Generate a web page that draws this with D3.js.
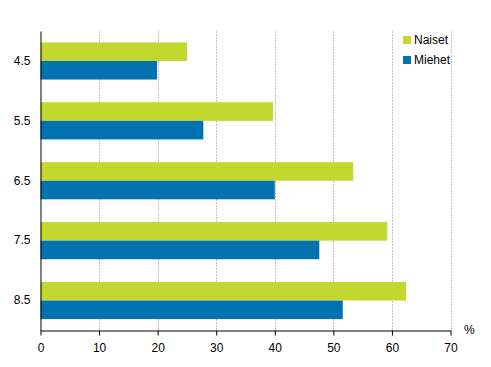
<!DOCTYPE html>
<html><head><meta charset="utf-8">
<script src="https://cdn.jsdelivr.net/npm/d3@7"></script>
<style>body{margin:0;background:#fff}svg{display:block;font-family:"Liberation Sans",Arial,sans-serif}</style>
</head><body><svg id="c" width="491" height="367"></svg>
<script>
const categories = ["4.5","5.5","6.5","7.5","8.5"];
const naiset = [25.0, 39.7, 53.4, 59.2, 62.4];
const miehet = [19.9, 27.8, 40.0, 47.6, 51.6];
const seriesNames = ["Naiset","Miehet"];
const xTicks = [0,10,20,30,40,50,60,70];
const colors = ["#c2d82e","#0072b0"];

const svg = d3.select("#c");
const m = {l:40.5, r:450.5, t:31, b:330.5};
const x = d3.scaleLinear().domain([0,70]).range([m.l, m.r]);
const y = d3.scaleBand().domain(categories).range([m.t, m.b]).paddingInner(0.38).paddingOuter(0.19);
const sub = d3.scaleBand().domain(seriesNames).range([0, y.bandwidth()]);

// grid
svg.append("g").selectAll("line").data(xTicks.filter(d=>d>0)).join("line")
  .attr("x1", d=>Math.round(x(d))+0.5).attr("x2", d=>Math.round(x(d))+0.5)
  .attr("y1", m.t).attr("y2", m.b)
  .attr("stroke","#c4c4c4").attr("stroke-dasharray","2,1");

const data = [naiset, miehet];
seriesNames.forEach((s,si)=>{
  svg.append("g").selectAll("rect").data(categories).join("rect")
    .attr("x", x(0)).attr("y", c=>y(c)+sub(s))
    .attr("width", (c,i)=>x(data[si][i])-x(0)).attr("height", sub.bandwidth())
    .attr("fill", colors[si]);
});

// x axis
const xa = svg.append("g").attr("transform",`translate(0,${m.b})`)
  .call(d3.axisBottom(x).tickValues(xTicks).tickSize(5).tickSizeOuter(0));
xa.select(".domain").attr("stroke","#000");
xa.selectAll("text").attr("font-size",12).attr("fill","#000").attr("dy","1.1em").attr("font-family","Liberation Sans, Arial, sans-serif");
// y axis
const ya = svg.append("g").attr("transform",`translate(${m.l},0)`)
  .call(d3.axisLeft(y).tickSize(0).tickPadding(10));
ya.select(".domain").attr("stroke","#000");
ya.selectAll("text").attr("font-size",12).attr("fill","#000").attr("font-family","Liberation Sans, Arial, sans-serif");

svg.append("text").attr("x",464).attr("y",334).attr("font-size",12).text("%");

// legend
const lg = svg.append("g");
seriesNames.forEach((s,i)=>{
  lg.append("rect").attr("x",403).attr("y",36+i*20).attr("width",8).attr("height",8).attr("fill",colors[i]);
  lg.append("text").attr("x",414).attr("y",44+i*20).attr("font-size",12).text(s);
});
</script></body></html>
